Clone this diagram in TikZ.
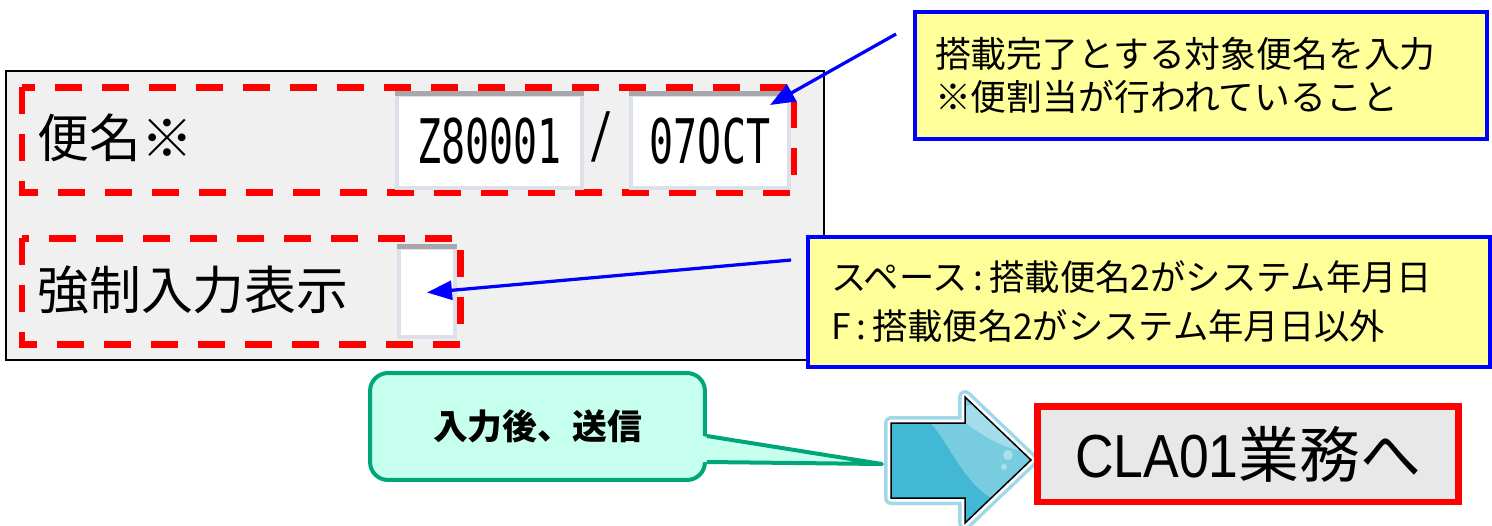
\documentclass[tikz,border=0pt]{standalone}
\usepackage{fontspec}
\usepackage{graphicx}
\usepackage{tikz}
\usetikzlibrary{calc,arrows.meta}
\newfontfamily\jp{Noto Sans CJK JP}
\newfontfamily\lib{Liberation Sans}
\newfontfamily\mono{DejaVu Sans Mono}
\definecolor{panelgray}{RGB}{240,240,240}
\definecolor{memo}{RGB}{255,255,153}
\definecolor{mint}{RGB}{198,255,237}
\definecolor{sendgreen}{RGB}{0,166,122}
\definecolor{cyanarrow}{RGB}{66,184,212}
\definecolor{halo}{RGB}{160,216,234}
\definecolor{fldtop}{RGB}{168,168,172}
\definecolor{fldside}{RGB}{220,224,232}
\definecolor{clagray}{RGB}{232,232,232}
\def\fs#1#2{\fontsize{#1}{#2}\selectfont}
\def\blockarrow{(891,423) -- (965,423) -- (965,397) -- (1031,460) -- (965,523) -- (965,498) -- (891,498) -- cycle}
\tikzset{
	reddash/.style={draw=red, line width=0.14cm, dash pattern=on 0.54cm off 0.4cm},
	field/.style={draw=fldside, fill=white, line width=0.08cm, inner sep=0pt, font=\mono\fs{35}{40}},
	memobox/.style={draw=blue, fill=memo, line width=0.08cm, align=left, inner ysep=0pt},
	pointer/.style={draw=blue, line width=0.065cm, -{Triangle[length=0.5cm,width=0.38cm]}},
}

\begin{document}
\begin{tikzpicture}[x=0.02cm, y=-0.02cm]
			%%%%% START %%%%%
			\useasboundingbox (0,0) rectangle (1492,525);
			
			\draw[line width=0.04cm, fill=panelgray] (6,71) rectangle (824,360);
			\draw[reddash] (22,87) rectangle (793,192);
			\draw[reddash] (22,238) rectangle (460,344);
			
			\node[anchor=west, inner sep=0pt, font=\jp\fs{29.5}{34}] (lblbin) at (37,138) {便名※};
			\node[anchor=west, inner sep=0pt, font=\jp\fs{29.5}{34}] (lblforce) at (37,290) {強制入力表示};
			
			\node[field, minimum width=3.7cm, minimum height=1.86cm] (fld1) at (489.5,141.5) {\scalebox{0.65}[1]{Z80001}};
			\node[field, minimum width=3.16cm, minimum height=1.86cm] (fld2) at (710,141.5) {\scalebox{0.65}[1]{07OCT}};
			\node[field, minimum width=1.12cm, minimum height=1.78cm] (chk) at (427,292.5) {};
			\foreach \f in {fld1,fld2,chk}
				\draw[fldtop, line width=0.1cm] (\f.north west) -- (\f.north east);
			\node[font=\mono\fs{35}{40}, inner sep=0pt] (slash) at (602,137) {\scalebox{0.65}[1]{/}};
			
			\node[memobox, minimum width=11.44cm, minimum height=2.54cm, text width=10.64cm, inner xsep=0.4cm, font=\jp\fs{20.4}{24.5}] (memo1) at (1201,75.5) {搭載完了とする対象便名を入力\\※便割当が行われていること};
			\node[memobox, minimum width=13.64cm, minimum height=2.6cm, text width=12.72cm, inner xsep=0.46cm, font=\jp\fs{20.1}{27.9}] (memo2) at (1149,302) {スペース\,:\,搭載便名2がシステム年月日\\F\,:\,搭載便名2がシステム年月日以外};
			
			\draw[pointer] ($(memo1.north west)+(-17,24)$) -- ($(fld2.north east)+(-21,12)$);
			\draw[pointer] ($(memo2.north west)+(-15,25)$) -- (chk.center);
			
			% callout
			\node[draw=sendgreen, fill=mint, line width=0.08cm, rounded corners=0.36cm, minimum width=6.7cm, minimum height=2.14cm, font=\jp\bfseries\fs{19.8}{24}] (send) at (537.5,426.5) {入力後、送信};
			\coordinate (p1) at ($(send.east)+(0,9.5)$);
			\coordinate (p2) at ($(send.east)+(0,35.5)$);
			\coordinate (sendtip) at (882,464);
			\fill[mint] ($(p1)+(-5,0)$) -- (sendtip) -- ($(p2)+(-5,0)$) -- cycle;
			\draw[sendgreen, line width=0.08cm, line join=round] (p1) -- (sendtip) -- (p2);
			
			% block arrow
			\draw[halo, line width=0.28cm, line join=round] \blockarrow;
			\draw[white, line width=0.14cm, line join=round] \blockarrow;
			\fill[cyanarrow] \blockarrow;
			\begin{scope}
				\clip \blockarrow;
				\fill[cyanarrow!72!white] (915,410) .. controls (950,430) and (960,495) .. (1010,505) -- (1045,470) -- (1045,385) -- cycle;
				\fill[cyanarrow!48!white] (945,412) .. controls (975,425) and (990,448) .. (1031,452) -- (1045,385) -- cycle;
				\fill[white!55!cyanarrow] (1008,455) circle (0.1cm);
				\fill[white!55!cyanarrow] (1004,467) circle (0.06cm);
			\end{scope}
			\draw[black, line width=0.03cm, line join=miter] \blockarrow;
			
			\node[draw=red, fill=clagray, line width=0.14cm, minimum width=8.44cm, minimum height=1.92cm, font=\jp\fs{34.6}{40}] (cla) at (1248,454) {{\lib\scalebox{0.88}[1]{CLA01}}業務へ};
			
			%%%%% END %%%%%
		\end{tikzpicture}
\end{document}
